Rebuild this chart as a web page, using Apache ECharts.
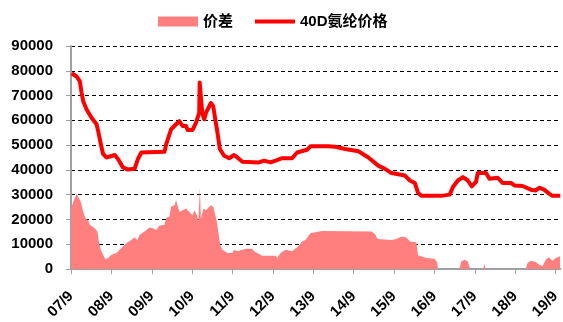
<!DOCTYPE html>
<html>
<head>
<meta charset="utf-8">
<script src="https://cdn.jsdelivr.net/npm/echarts@6/dist/echarts.min.js"></script>
<style>
  html, body { margin: 0; padding: 0; background: #fff; }
  #chart { width: 563px; height: 322px; }
</style>
</head>
<body>
<div id="chart"></div>
<script>
// 40D spandex price (yuan/ton) and its price spread, Sep 2007 – Oct 2019
const yearLabels = ['07/9', '08/9', '09/9', '10/9', '11/9', '12/9', '13/9',
                    '14/9', '15/9', '16/9', '17/9', '18/9', '19/9'];

const priceDates = [
  '2007-09-07', '2007-10-21', '2007-11-20', '2007-12-06', '2007-12-20', '2008-01-20',
  '2008-03-04', '2008-04-19', '2008-05-03', '2008-05-27', '2008-06-17', '2008-07-17',
  '2008-10-01', '2008-10-30', '2008-12-14', '2009-01-29', '2009-03-28', '2009-04-28',
  '2009-05-28', '2009-12-24', '2010-01-10', '2010-02-24', '2010-04-08', '2010-05-07',
  '2010-06-06', '2010-07-07', '2010-07-21', '2010-09-05', '2010-10-05', '2010-10-19',
  '2010-11-04', '2010-11-08', '2010-11-22', '2010-12-01', '2010-12-19', '2011-01-04',
  '2011-01-18', '2011-02-18', '2011-03-09', '2011-03-27', '2011-04-17', '2011-05-08',
  '2011-06-16', '2011-08-01', '2011-09-15', '2011-10-14', '2011-11-29', '2012-04-28',
  '2012-06-12', '2012-08-10', '2012-09-25', '2012-11-23', '2013-02-22', '2013-04-07',
  '2013-07-05', '2013-08-05', '2014-01-18', '2014-03-17', '2014-06-15', '2014-10-13',
  '2015-01-12', '2015-04-10', '2015-06-10', '2015-08-09', '2015-12-08', '2016-01-22',
  '2016-03-06', '2016-04-05', '2016-05-05', '2016-11-02', '2017-01-17', '2017-02-16',
  '2017-03-30', '2017-05-15', '2017-06-29', '2017-08-04', '2017-09-12', '2017-09-27',
  '2017-12-11', '2018-01-11', '2018-03-25', '2018-05-09', '2018-07-23', '2018-08-23',
  '2018-11-06', '2019-01-20', '2019-03-05', '2019-04-05', '2019-05-19', '2019-07-03',
  '2019-08-03', '2019-10-13'
];
const priceValues = [
  79000, 77700, 75700, 71000, 67700, 64400,
  61000, 58400, 55700, 50400, 46400, 45000,
  46000, 44400, 41000, 40100, 40400, 44400,
  47000, 47300, 50400, 56400, 58400, 59700,
  57700, 57700, 56100, 56100, 59000, 59700,
  63000, 75300, 74500, 63000, 60400, 63000,
  62400, 67000, 65700, 60400, 55000, 48400,
  45700, 44700, 46000, 45000, 43300, 43000,
  43700, 43000, 43700, 44700, 44700, 47000,
  48100, 49500, 49500, 49300, 48400, 47500,
  45000, 41700, 40400, 38700, 37700, 35700,
  34700, 30700, 29500, 29500, 30000, 33100,
  35700, 37100, 35700, 33300, 35100, 38700,
  38700, 36400, 36800, 34700, 34700, 33700,
  33500, 32000, 31700, 32800, 32000, 30400,
  29500, 29500
];

const spreadDates = [
  '2007-09-01', '2007-09-21', '2007-10-21', '2007-11-05', '2007-11-29', '2007-12-20',
  '2008-01-11', '2008-02-04', '2008-02-19', '2008-04-03', '2008-04-27', '2008-05-09',
  '2008-05-27', '2008-06-17', '2008-07-09', '2008-08-01', '2008-09-02', '2008-10-16',
  '2008-11-15', '2008-12-14', '2009-01-14', '2009-02-28', '2009-03-28', '2009-04-22',
  '2009-05-12', '2009-06-27', '2009-08-11', '2009-09-10', '2009-10-10', '2009-11-10',
  '2009-12-24', '2010-01-10', '2010-02-08', '2010-02-23', '2010-03-23', '2010-04-08',
  '2010-04-22', '2010-05-07', '2010-06-06', '2010-07-07', '2010-08-06', '2010-09-05',
  '2010-09-20', '2010-10-14', '2010-10-26', '2010-11-10', '2010-11-19', '2010-12-13',
  '2011-01-04', '2011-01-18', '2011-02-18', '2011-03-09', '2011-03-24', '2011-04-11',
  '2011-04-26', '2011-05-11', '2011-06-01', '2011-07-16', '2011-08-30', '2011-09-15',
  '2011-10-14', '2011-12-29', '2012-02-27', '2012-03-12', '2012-05-26', '2012-09-25',
  '2012-10-09', '2012-11-09', '2012-12-24', '2013-02-22', '2013-04-15', '2013-05-21',
  '2013-06-21', '2013-08-05', '2013-09-19', '2013-11-18', '2015-02-11', '2015-03-12',
  '2015-04-04', '2015-08-09', '2015-09-23', '2015-11-07', '2015-12-22', '2016-01-22',
  '2016-03-20', '2016-04-05', '2016-06-19', '2016-09-04', '2016-09-27', '2016-10-03',
  '2017-04-15', '2017-04-29', '2017-05-30', '2017-06-29', '2017-07-19', '2017-11-16',
  '2017-11-27', '2017-12-08', '2018-12-06', '2018-12-21', '2019-01-20', '2019-03-05',
  '2019-04-05', '2019-05-04', '2019-06-03', '2019-07-03', '2019-08-03', '2019-09-02',
  '2019-10-11'
];
const spreadValues = [
  24400, 27000, 30400, 31200, 27000, 23000,
  20400, 19700, 17700, 16400, 15100, 11100,
  7700, 5700, 3700, 4400, 5700, 6400,
  7700, 9100, 10400, 11700, 12700, 11700,
  13700, 15100, 16700, 16400, 15700, 17500,
  17700, 20700, 21100, 25100, 25700, 27700,
  27000, 23000, 23700, 24400, 23000, 21700,
  23700, 21700, 19100, 32700, 20400, 24400,
  23700, 24400, 25700, 25100, 22400, 19100,
  14400, 9700, 7700, 6400, 6400, 7700,
  7100, 8100, 8100, 7100, 5300, 5300,
  4400, 6400, 7700, 7100, 9100, 11100,
  11700, 14400, 14800, 15300, 15100, 14000,
  12100, 11700, 12100, 13100, 12700, 11100,
  10800, 5500, 4400, 4100, 2400, 0,
  0, 3000, 3700, 3000, 0, 0,
  2100, 0, 0, 2400, 3300, 2800,
  1700, 1100, 3700, 4700, 3300, 4400,
  5100
];

// months elapsed since September 2007
function monthIndex(dateStr) {
  const [y, m, d] = dateStr.split('-').map(Number);
  return (y - 2007) * 12 + (m - 9) + (d - 1) / 30;
}
const pair = (dates, values) => dates.map((d, i) => [monthIndex(d), values[i]]);

const labelFont = { fontFamily: 'Liberation Sans, "Noto Sans CJK SC", sans-serif', fontWeight: 'bold', fontSize: 15, color: '#000' };

// legend glyph for the price line: a 4px bar inside a 40x10 box
const lineIcon = 'path://M0,0L0.01,0L0,0.01ZM40,10L39.99,10L40,9.99ZM0,3L40,3L40,7L0,7Z';

const chart = echarts.init(document.getElementById('chart'), null, { renderer: 'canvas' });
chart.setOption({
  animation: false,
  backgroundColor: '#fff',
  legend: {
    left: 153,
    top: 9,
    itemWidth: 40,
    itemHeight: 10,
    itemGap: 22,
    textStyle: labelFont,
    data: [
      { name: '价差', icon: 'rect' },
      { name: '40D氨纶价格', icon: lineIcon }
    ]
  },
  grid: { left: 71, right: 0, top: 46, bottom: 51, containLabel: false },
  xAxis: {
    type: 'value',
    min: 0,
    max: 145.4,
    interval: 12,
    axisLine: { show: true, lineStyle: { color: '#a0a0a0', width: 2 } },
    axisTick: { show: true, length: 5, lineStyle: { color: '#a0a0a0', width: 1 } },
    splitLine: { show: false },
    axisLabel: Object.assign({}, labelFont, {
      rotate: 45,
      margin: 25,
      showMaxLabel: false,
      formatter: v => (Math.abs(v % 12) < 1e-6 ? (yearLabels[Math.round(v / 12)] || '') : '')
    })
  },
  yAxis: {
    type: 'value',
    min: 0,
    max: 90000,
    interval: 10000,
    axisLine: { show: true, lineStyle: { color: '#a0a0a0', width: 2 } },
    axisTick: { show: true, length: 5, lineStyle: { color: '#a0a0a0' } },
    splitLine: { show: true, lineStyle: { color: '#000', width: 1, type: [4, 3] } },
    axisLabel: Object.assign({}, labelFont, { margin: 18, formatter: v => String(v) })
  },
  series: [
    {
      name: '价差',
      type: 'line',
      data: pair(spreadDates, spreadValues),
      symbol: 'none',
      lineStyle: { width: 0, color: '#FF7F7F' },
      itemStyle: { color: '#FF7F7F' },
      areaStyle: { color: '#FF7F7F', opacity: 1 },
      z: 2
    },
    {
      name: '40D氨纶价格',
      type: 'line',
      data: pair(priceDates, priceValues),
      symbol: 'none',
      lineStyle: { width: 4, color: '#FF0000', join: 'round' },
      itemStyle: { color: '#FF0000' },
      z: 3
    }
  ]
});
</script>
</body>
</html>
